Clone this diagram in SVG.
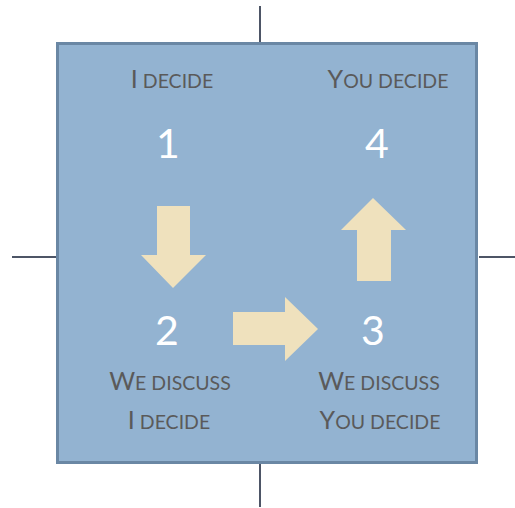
<svg xmlns="http://www.w3.org/2000/svg" width="515" height="508" viewBox="0 0 515 508">
<style>
.axis{stroke:#4d5566;stroke-width:2;fill:none}
.box{fill:#93b3d1;stroke:#6a87a4;stroke-width:3}
.arrow{fill:#efe1bd}
.num{font-family:Lato,"Open Sans",sans-serif;font-size:41px;fill:#ffffff;text-anchor:middle}
.lbl{font-family:Lato,"Open Sans",sans-serif;font-size:19.5px;fill:#5a5a5a;text-anchor:middle}
.cap{font-size:25px}
</style>
<g id="axes" class="axis">
<line x1="260" y1="6" x2="260" y2="43"/>
<line x1="260" y1="463" x2="260" y2="507"/>
<line x1="12" y1="257" x2="56" y2="257"/>
<line x1="479" y1="257" x2="515" y2="257"/>
</g>
<g id="frame"><rect class="box" x="57.5" y="43.5" width="419" height="419"/></g>
<g id="connectors">
<polygon class="arrow" points="157,206 190,206 190,255 206,255 173,288 141,255 157,255"/>
<polygon class="arrow" points="233,312 285,312 285,297 318,329 285,361 285,345 233,345"/>
<polygon class="arrow" points="357,281 391,281 391,230 406,230 373,198 341,230 357,230"/>
</g>
<g id="node1">
<text class="lbl" x="172" y="88"><tspan class="cap">I</tspan> DECIDE</text>
<text class="num" x="168" y="158">1</text>
</g>
<g id="node4">
<text class="lbl" x="388" y="88"><tspan class="cap">Y</tspan>OU DECIDE</text>
<text class="num" x="377" y="158">4</text>
</g>
<g id="node2">
<text class="num" x="167" y="345">2</text>
<text class="lbl" x="170" y="390"><tspan class="cap">W</tspan>E DISCUSS</text>
<text class="lbl" x="169" y="429"><tspan class="cap">I</tspan> DECIDE</text>
</g>
<g id="node3">
<text class="num" x="373" y="345">3</text>
<text class="lbl" x="379" y="390"><tspan class="cap">W</tspan>E DISCUSS</text>
<text class="lbl" x="380" y="429"><tspan class="cap">Y</tspan>OU DECIDE</text>
</g>
</svg>
